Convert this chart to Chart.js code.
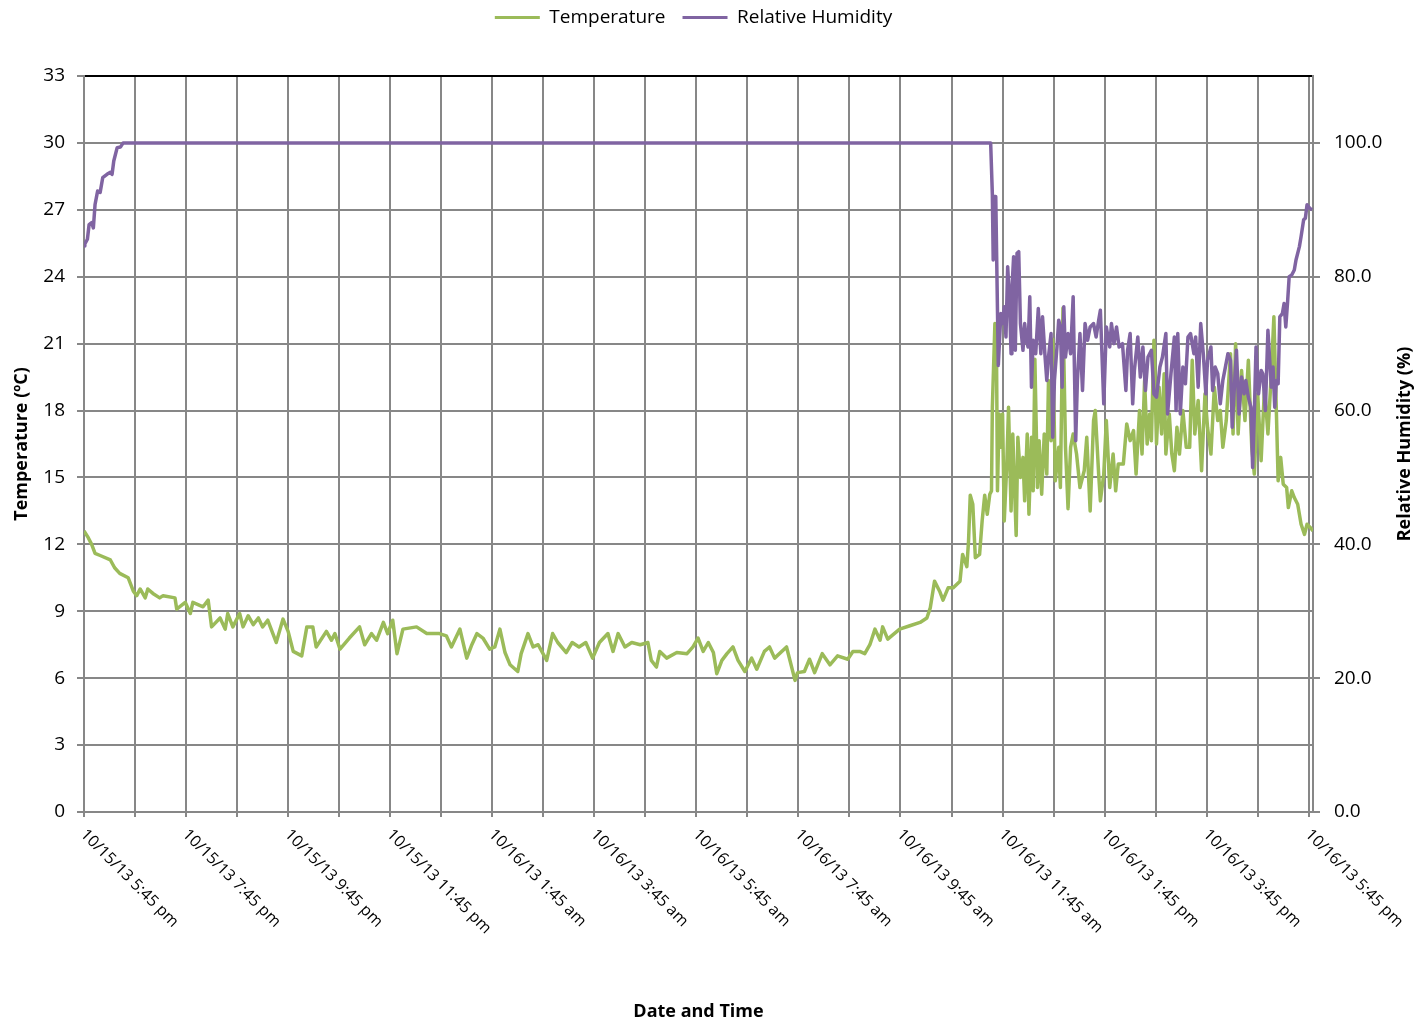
<!DOCTYPE html>
<html>
<head>
<meta charset="utf-8">
<title>Temperature and Relative Humidity</title>
<script src="https://cdn.jsdelivr.net/npm/chart.js@4.4.1/dist/chart.umd.min.js"></script>
<style>
  html, body { margin: 0; padding: 0; background: #fff; }
  #wrap { width: 1421px; height: 1025px; }
</style>
</head>
<body>
<div id="wrap"><canvas id="loggerChart" width="1421" height="1025"></canvas></div>
<script>
// readings as [minutes after 10/15/13 5:45 pm, value]
const temperatureReadings = [
  [0,12.6],[5,12.3],[9,12.0],[13,11.6],[19,11.5],[31,11.3],[36,10.95],[42,10.7],[52,10.5],[58,9.9],
  [62,9.7],[66,10.0],[72,9.6],[75,10.0],[81,9.8],[89,9.6],[93,9.7],[107,9.6],[109,9.1],[119,9.4],
  [125,8.9],[128,9.4],[140,9.2],[146,9.5],[150,8.3],[160,8.7],[166,8.2],[169,8.9],[175,8.3],[183,8.9],
  [187,8.3],[193,8.8],[199,8.4],[205,8.7],[210,8.3],[216,8.6],[226,7.6],[234,8.65],[240,8.1],[246,7.2],
  [256,7.0],[262,8.3],[269,8.3],[273,7.4],[285,8.1],[291,7.7],[295,8.0],[301,7.3],[312,7.8],[324,8.3],
  [330,7.5],[338,8.0],[344,7.7],[352,8.5],[357,8.0],[363,8.6],[368,7.1],[375,8.2],[391,8.3],[403,8.0],
  [418,8.0],[426,7.9],[432,7.4],[442,8.2],[450,6.9],[456,7.5],[462,8.0],[469,7.8],[477,7.3],[483,7.4],
  [489,8.2],[495,7.15],[501,6.6],[510,6.3],[514,7.1],[522,8.0],[528,7.4],[534,7.5],[544,6.8],[551,8.0],
  [557,7.6],[567,7.15],[574,7.6],[582,7.4],[590,7.6],[598,6.9],[606,7.6],[616,8.0],[622,7.2],[628,8.0],
  [636,7.4],[644,7.6],[654,7.5],[663,7.6],[667,6.8],[673,6.5],[677,7.2],[685,6.9],[697,7.15],[709,7.1],
  [716,7.4],[722,7.8],[728,7.2],[734,7.6],[740,7.15],[744,6.2],[750,6.8],[756,7.1],[763,7.4],[769,6.8],
  [777,6.3],[785,6.9],[791,6.4],[800,7.2],[806,7.4],[812,6.9],[826,7.4],[836,5.9],[839,6.25],[847,6.3],
  [853,6.85],[859,6.25],[868,7.1],[877,6.6],[886,7.0],[898,6.85],[904,7.2],[912,7.2],[918,7.1],[924,7.5],
  [930,8.2],[936,7.7],[939,8.3],[945,7.75],[959,8.2],[971,8.35],[983,8.5],[991,8.7],[995,9.15],[1000,10.35],
  [1006,9.9],[1010,9.5],[1016,10.05],[1022,10.05],[1030,10.35],[1033,11.55],[1038,11.0],[1040,12.15],[1042,14.2],[1045,13.8],
  [1048,11.4],[1053,11.55],[1056,13.05],[1059,14.2],[1062,13.35],[1065,14.25],[1067,14.4],[1068,18.15],[1071,21.9],[1073,19.95],
  [1074,14.4],[1076,17.85],[1078,16.35],[1080,17.85],[1082,13.05],[1085,15.6],[1087,18.15],[1090,13.5],[1092,16.95],[1096,12.4],
  [1098,16.8],[1101,15.0],[1104,15.9],[1106,13.95],[1109,16.95],[1111,13.35],[1114,16.8],[1116,14.4],[1118,20.3],[1121,14.55],
  [1123,16.65],[1126,14.25],[1129,16.95],[1132,15.15],[1134,19.35],[1137,16.65],[1139,21.2],[1142,14.85],[1146,16.35],[1148,14.55],
  [1151,22.6],[1154,16.35],[1157,13.6],[1160,16.35],[1163,16.95],[1167,16.05],[1171,14.55],[1176,15.3],[1179,16.8],[1183,13.5],
  [1187,17.55],[1189,18.0],[1193,15.15],[1195,13.95],[1199,15.15],[1202,17.55],[1206,14.55],[1210,16.05],[1213,14.4],[1216,15.6],
  [1222,15.6],[1226,17.4],[1230,16.65],[1234,17.1],[1237,15.15],[1241,18.0],[1244,16.05],[1247,19.35],[1250,16.5],[1253,17.85],
  [1255,16.65],[1258,21.15],[1261,16.5],[1264,19.05],[1267,16.95],[1270,19.65],[1272,16.05],[1276,17.85],[1279,16.05],[1282,15.3],
  [1285,17.25],[1288,16.05],[1292,18.0],[1296,16.35],[1300,16.35],[1303,20.25],[1306,16.95],[1310,18.45],[1314,15.3],[1318,18.75],
  [1321,17.25],[1325,16.05],[1329,19.05],[1333,17.55],[1336,18.0],[1339,16.35],[1343,17.55],[1348,20.55],[1351,16.95],[1354,21.0],
  [1357,16.95],[1361,19.8],[1365,17.55],[1369,20.25],[1373,16.35],[1376,15.15],[1380,18.75],[1384,15.75],[1388,19.05],[1392,16.95],
  [1396,19.65],[1399,22.2],[1402,17.85],[1404,14.85],[1407,15.9],[1410,14.7],[1414,14.55],[1416,13.65],[1420,14.4],[1423,14.1],
  [1427,13.8],[1431,12.9],[1435,12.45],[1438,12.9],[1442,12.75],[1445,12.6]
];

const humidityReadings = [
  [0,84.6],[1,84.9],[4,85.6],[6,87.8],[9,88.1],[11,87.3],[13,90.8],[16,92.8],[19,92.6],[22,94.8],
  [27,95.3],[31,95.6],[33,95.3],[35,97.3],[39,99.3],[43,99.4],[46,100],[1066,100],[1068,92.3],[1069,82.5],
  [1070,92],[1072,92],[1075,66.75],[1078,74.5],[1080,73],[1082,75.5],[1084,71],[1086,81.5],[1088,77],[1090,68.5],
  [1091,78],[1093,83],[1095,69],[1097,83.5],[1099,83.75],[1101,73],[1104,69],[1106,73],[1108,70.5],[1110,69.5],
  [1112,77],[1114,63.5],[1116,70.5],[1119,68.5],[1122,75.25],[1125,68.5],[1127,74],[1130,68],[1132,64.5],[1134,68],
  [1137,71.5],[1139,56],[1141,64.5],[1144,69.5],[1146,73.5],[1148,72.5],[1150,63.5],[1152,75.5],[1154,68],[1157,71.5],
  [1160,68.5],[1163,77],[1166,55.5],[1168,64.5],[1171,71.5],[1174,63],[1177,73],[1180,70.5],[1183,72.5],[1187,73],
  [1190,71],[1193,73.5],[1195,75],[1199,61],[1202,72.5],[1206,69.5],[1208,73],[1211,70],[1214,72.5],[1217,69.5],
  [1221,70],[1225,63],[1227,69],[1230,71.5],[1233,61],[1235,66],[1239,71],[1242,65],[1245,69.5],[1248,63],
  [1251,68],[1255,69],[1258,62.5],[1261,62],[1265,66.5],[1268,68],[1272,71.5],[1274,59.5],[1278,65.5],[1282,71],
  [1284,60],[1286,71.5],[1289,59.5],[1292,66.5],[1295,64],[1298,71],[1301,71.5],[1305,68.5],[1307,71],[1310,63.5],
  [1313,73],[1316,68.5],[1319,62.5],[1321,67.5],[1325,69.5],[1327,63],[1330,66.5],[1333,65.5],[1336,61],[1339,64.5],
  [1342,66.5],[1345,68.5],[1348,67.5],[1350,57.5],[1353,64.5],[1355,69],[1358,59.5],[1361,65],[1364,62.5],[1366,64.5],
  [1369,62],[1372,60.5],[1374,51.5],[1376,59.5],[1378,69.5],[1381,62.5],[1384,66],[1386,65.5],[1389,60],[1392,72],
  [1396,63.5],[1398,66.5],[1400,60.5],[1402,64.5],[1404,64],[1406,74],[1409,74.5],[1411,76],[1413,72.5],[1415,76],
  [1417,80],[1420,80.25],[1423,81],[1425,82.5],[1429,84.5],[1431,86],[1434,88.5],[1436,88.75],[1438,90.75],[1441,90.25],
  [1444,90]
];

// hourly gridlines, labels every two hours
const hourMarks = [0,60,120,180,240,300,360,420,480,540,600,660,720,780,840,900,960,1020,1080,1140,1200,1260,1320,1380,1440];
const labelMarks = [0,120,240,360,480,600,720,840,960,1080,1200,1320,1440];
const timeLabels = [
  "10/15/13 5:45 pm", "10/15/13 7:45 pm", "10/15/13 9:45 pm", "10/15/13 11:45 pm",
  "10/16/13 1:45 am", "10/16/13 3:45 am", "10/16/13 5:45 am", "10/16/13 7:45 am",
  "10/16/13 9:45 am", "10/16/13 11:45 am", "10/16/13 1:45 pm", "10/16/13 3:45 pm",
  "10/16/13 5:45 pm"
];
const tempTicks = [0,3,6,9,12,15,18,21,24,27,30,33];
const humidityTicks = [0,20,40,60,80,100];

const GRID = "#878787";
const GREEN = "#9bbb59";
const PURPLE = "#8064a2";

Chart.defaults.font.family = "'Open Sans', sans-serif";
Chart.defaults.color = "#000";

// keep the plot area below the legend at a fixed height
const legendSpace = {
  id: "legendSpace",
  beforeInit(chart) {
    const fit = chart.legend.fit;
    chart.legend.fit = function () {
      fit.call(this);
      this.height = 85;
    };
  }
};

// date labels slant down to the right, and the right title reads upwards
const extraText = {
  id: "extraText",
  afterDraw(chart) {
    const ctx = chart.ctx;
    const xScale = chart.scales.x;
    const area = chart.chartArea;
    ctx.save();
    ctx.fillStyle = "#000";
    ctx.font = "16px 'Open Sans', sans-serif";
    ctx.textAlign = "left";
    ctx.textBaseline = "middle";
    labelMarks.forEach((m, i) => {
      const px = xScale.getPixelForValue(m);
      ctx.save();
      ctx.translate(px - 1, xScale.top + 20);
      ctx.rotate(Math.PI / 4);
      ctx.fillText(timeLabels[i], 0, 0);
      ctx.restore();
    });
    ctx.font = "bold 18px 'Open Sans', sans-serif";
    ctx.textAlign = "center";
    ctx.translate(1405, (area.top + area.bottom) / 2);
    ctx.rotate(-Math.PI / 2);
    ctx.fillText("Relative Humidity (%)", 0, 0);
    ctx.restore();
  }
};

new Chart(document.getElementById("loggerChart"), {
  type: "line",
  data: {
    datasets: [
      {
        label: "Temperature",
        data: temperatureReadings.map(([m, v]) => ({ x: m, y: v })),
        borderColor: GREEN,
        backgroundColor: GREEN,
        borderWidth: 3.5,
        borderJoinStyle: "round",
        pointRadius: 0,
        yAxisID: "y",
        order: 1
      },
      {
        label: "Relative Humidity",
        data: humidityReadings.map(([m, v]) => ({ x: m, y: v })),
        borderColor: PURPLE,
        backgroundColor: PURPLE,
        borderWidth: 3.5,
        borderJoinStyle: "round",
        pointRadius: 0,
        yAxisID: "y1",
        order: 0
      }
    ]
  },
  options: {
    responsive: false,
    animation: false,
    devicePixelRatio: 1,
    layout: { padding: { top: -9, right: 34, bottom: 0, left: 0 } },
    plugins: {
      legend: {
        position: "top",
        labels: {
          boxWidth: 45,
          boxHeight: 3,
          padding: 17,
          color: "#000",
          font: { size: 19 },
          sort: (a, b) => a.datasetIndex - b.datasetIndex,
          generateLabels: chart => Chart.defaults.plugins.legend.labels.generateLabels(chart)
            .map(item => Object.assign(item, { lineWidth: 0 }))
        }
      },
      tooltip: { enabled: false }
    },
    scales: {
      x: {
        type: "linear",
        min: 0,
        max: 1445,
        afterBuildTicks: s => { s.ticks = hourMarks.map(v => ({ value: v })); },
        afterFit: s => { s.height = 213; },
        grid: { color: GRID, lineWidth: 2, tickLength: 5 },
        border: { color: GRID, width: 2 },
        ticks: { display: false },
        title: {
          display: true,
          text: "Date and Time",
          font: { size: 18, weight: "bold" },
          padding: { top: 0, bottom: 2 }
        }
      },
      y: {
        position: "left",
        min: 0,
        max: 33,
        afterBuildTicks: s => { s.ticks = tempTicks.map(v => ({ value: v })); },
        afterFit: s => { s.width = 84; },
        grid: {
          color: c => (c.tick && c.tick.value === 33 ? "#000" : GRID),
          tickColor: GRID,
          lineWidth: 2,
          tickLength: 7
        },
        border: { color: GRID, width: 2 },
        ticks: { padding: 12, font: { size: 19 } },
        title: {
          display: true,
          text: "Temperature (ºC)",
          font: { size: 18, weight: "bold" },
          padding: { top: 11, bottom: 0 }
        }
      },
      y1: {
        position: "right",
        min: 0,
        max: 110,
        afterBuildTicks: s => { s.ticks = humidityTicks.map(v => ({ value: v })); },
        afterFit: s => { s.width = 74; },
        grid: { drawOnChartArea: false, color: GRID, lineWidth: 2, tickLength: 7 },
        border: { color: GRID, width: 2 },
        ticks: { padding: 14, font: { size: 19 }, callback: v => v.toFixed(1) }
      }
    }
  },
  plugins: [legendSpace, extraText]
});
</script>
</body>
</html>
